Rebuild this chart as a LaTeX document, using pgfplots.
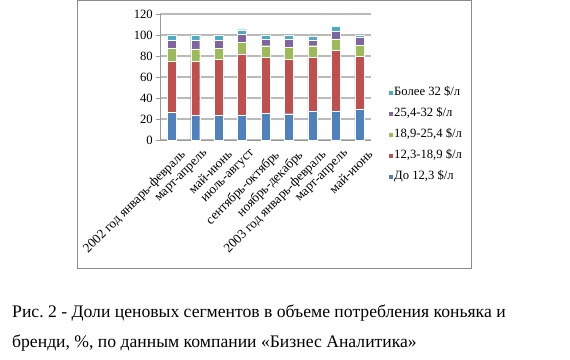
\documentclass[border=0pt]{standalone}
\usepackage{pgfplots}
\pgfplotsset{compat=1.18}
\usepackage{fontspec}
\setmainfont{Liberation Serif}
\frenchspacing
\definecolor{cA}{HTML}{4F81BD}
\definecolor{cB}{HTML}{C0504D}
\definecolor{cC}{HTML}{9BBB59}
\definecolor{cD}{HTML}{8064A2}
\definecolor{cE}{HTML}{4BACC6}
\begin{document}
\begin{tikzpicture}[x=1bp,y=1bp]
\path[use as bounding box] (0,0) rectangle (570,359);
\draw[color=black!45, line width=1bp] (77,91) rectangle (471,358.5);
\begin{axis}[
  at={(160bp,219bp)}, anchor=south west,
  scale only axis, width=211bp, height=126bp,
  ybar stacked, bar width=9bp,
  xmin=-0.5, xmax=8.5, ymin=0, ymax=120,
  ytick={0,20,...,120},
  xtick={0,...,8},
  xticklabels={2002 год январь-февраль, март-апрель, май-июнь, июль-август, сентябрь-октябрь, ноябрь-декабрь, 2003 год январь-февраль, март-апрель, май-июнь},
  x tick label style={rotate=45, anchor=north east, font=\fontsize{13.2}{14}\selectfont, inner sep=0bp, xshift=2bp, yshift=-9bp},
  y tick label style={font=\fontsize{12.7}{14}\selectfont, inner sep=1bp, xshift=-2bp},
  /pgf/number format/assume math mode=true,
  major tick length=4bp,
  extra x ticks={-0.5,0.5,...,8.5}, extra x tick labels={},
  extra x tick style={grid=none, tick style={color=black!40}},
  major x tick style={draw=none},
  axis x line*=bottom, axis y line*=left,
  axis line style={color=black!40},
  y tick style={color=black!40},
  tick align=outside,
  ymajorgrids, grid style={color=black!27, line width=1.4bp},
  legend style={draw=none, at={(1.08,0.43)}, anchor=north west, font=\fontsize{12.7}{14}\selectfont, row sep=7.4bp, inner sep=0pt,
    nodes={inner sep=0.8bp, text height=9bp, text depth=3bp}},
  legend cell align=left,
  reverse legend,
  legend image code/.code={\fill[#1] (0bp,-2.5bp) rectangle (5bp,2.5bp);},
  every axis plot/.append style={draw=white, line width=0.3bp},
]
\addplot[fill=cA] coordinates {(0,26.3) (1,23.5) (2,23.8) (3,23.5) (4,25.4) (5,25) (6,27) (7,27) (8,29.2)};
\addplot[fill=cB] coordinates {(0,48.9) (1,51.7) (2,53) (3,58.7) (4,53.3) (5,52) (6,51.7) (7,58.7) (8,50.2)};
\addplot[fill=cC] coordinates {(0,11.8) (1,11.5) (2,10.2) (3,10.8) (4,11.1) (5,11.6) (6,11.1) (7,10.5) (8,10.8)};
\addplot[fill=cD] coordinates {(0,8.2) (1,8.5) (2,8.2) (3,8) (4,6.4) (5,7.3) (6,5.4) (7,7.6) (8,7.3)};
\addplot[fill=cE] coordinates {(0,5.1) (1,4.8) (2,4.8) (3,4) (4,3.8) (5,4.1) (6,3.5) (7,4.2) (8,2.5)};
\legend{До 12{,}3 \$/л, 12{,}3-18{,}9 \$/л, 18{,}9-25{,}4 \$/л, 25{,}4-32 \$/л, Более 32 \$/л}
\end{axis}
\node[anchor=base west, inner sep=0, font=\fontsize{17.7}{20}\selectfont] at (12,42) {Рис. 2 - Доли ценовых сегментов в объеме потребления коньяка и};
\node[anchor=base west, inner sep=0, font=\fontsize{17.7}{20}\selectfont] at (12,12) {бренди, \%, по данным компании «Бизнес Аналитика»};
\end{tikzpicture}
\end{document}
